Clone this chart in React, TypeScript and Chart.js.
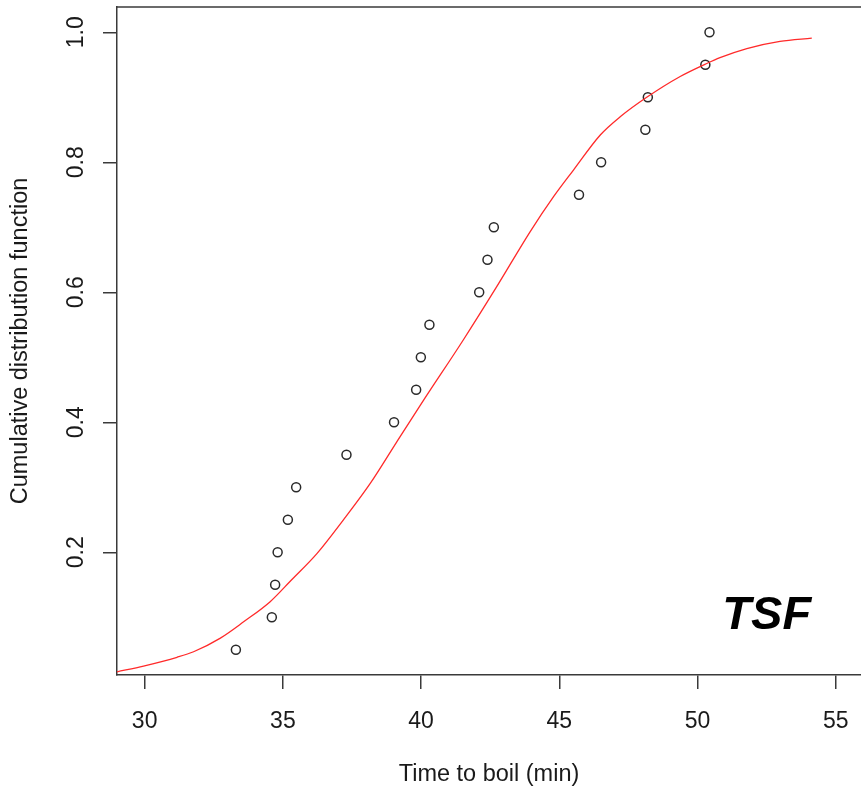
import React, { useEffect, useRef } from "react";
import { Chart, registerables } from "chart.js";

Chart.register(...registerables);

// Observed boiling times (min) and their empirical CDF positions
const obsTime = [33.3, 34.6, 34.72, 34.81, 35.18, 35.48, 37.3, 39.02, 39.82, 39.99, 40.3, 42.1, 42.4, 42.63, 45.71, 46.51, 48.11, 48.2, 50.28, 50.43];
const obsCdf = [0.05, 0.1, 0.15, 0.2, 0.25, 0.3, 0.35, 0.4, 0.45, 0.5, 0.55, 0.6, 0.65, 0.7, 0.75, 0.8, 0.85, 0.9, 0.95, 1.0];

// Fitted CDF curve
const fitTime = [29.0, 29.96, 31.17, 31.77, 32.74, 33.58, 34.54, 35.3, 36.23, 37.19, 38.16, 39.12, 40.09, 41.53, 42.74, 43.94, 44.79, 45.51, 46.48, 47.2, 48.16, 49.37, 50.28, 50.81, 51.78, 52.98, 54.13];
const fitCdf = [0.016, 0.025, 0.0385, 0.047, 0.068, 0.093, 0.124, 0.157, 0.198, 0.25, 0.306, 0.37, 0.434, 0.527, 0.609, 0.693, 0.747, 0.788, 0.842, 0.87, 0.9, 0.932, 0.951, 0.961, 0.975, 0.986, 0.991];

const xTicks = [30, 35, 40, 45, 50, 55];
const xTickLabels = ["30", "35", "40", "45", "50", "55"];
const yTicks = [0.2, 0.4, 0.6, 0.8, 1.0];
const yTickLabels = ["0.2", "0.4", "0.6", "0.8", "1.0"];
const xRange = [29.0, 55.91];
const yRange = [0.0112, 1.0389];

const xTitle = "Time to boil (min)";
const yTitle = "Cumulative distribution function";
const tagText = "TSF";
const tagX = 52.5;
const tagY = 0.082;

const AXIS = "#3a3a3a";
const TEXT = "#1a1a1a";
const FONT = '"Liberation Sans", Arial, sans-serif';

const rLabels = {
  id: "rLabels",
  afterDraw(chart: any) {
    const ctx = chart.ctx as CanvasRenderingContext2D;
    const { left, right, top, bottom } = chart.chartArea;
    const xs = chart.scales.x;
    const ys = chart.scales.y;
    ctx.save();
    // top border of the box
    ctx.strokeStyle = AXIS;
    ctx.lineWidth = 1.5;
    ctx.beginPath();
    ctx.moveTo(left - 0.75, top);
    ctx.lineTo(right + 2, top);
    ctx.stroke();

    ctx.fillStyle = TEXT;
    ctx.font = `23px ${FONT}`;
    ctx.textAlign = "center";
    ctx.textBaseline = "alphabetic";
    xTicks.forEach((v, i) => {
      ctx.fillText(xTickLabels[i], xs.getPixelForValue(v), 728);
    });
    yTicks.forEach((v, i) => {
      ctx.save();
      ctx.translate(83, ys.getPixelForValue(v));
      ctx.rotate(-Math.PI / 2);
      ctx.fillText(yTickLabels[i], 0, 0);
      ctx.restore();
    });
    ctx.font = `23.5px ${FONT}`;
    ctx.fillText(xTitle, (left + right) / 2, 781);
    ctx.save();
    ctx.translate(27, (top + bottom) / 2);
    ctx.rotate(-Math.PI / 2);
    ctx.fillText(yTitle, 0, 0);
    ctx.restore();

    ctx.font = `italic bold 47px ${FONT}`;
    ctx.fillStyle = "#000";
    ctx.fillText(tagText, xs.getPixelForValue(tagX), ys.getPixelForValue(tagY));
    ctx.restore();
  },
};

export default function App() {
  const ref = useRef<HTMLCanvasElement | null>(null);
  useEffect(() => {
    if (!ref.current) return;
    const chart = new Chart(ref.current, {
      type: "scatter",
      data: {
        datasets: [
          {
            type: "line",
            data: fitTime.map((t, i) => ({ x: t, y: fitCdf[i] })),
            borderColor: "#ff2a2a",
            borderWidth: 1.3,
            pointRadius: 0,
            fill: false,
            cubicInterpolationMode: "monotone",
          } as any,
          {
            type: "scatter",
            data: obsTime.map((t, i) => ({ x: t, y: obsCdf[i] })),
            pointStyle: "circle",
            pointRadius: 4.5,
            borderWidth: 1.5,
            borderColor: "#2a2a2a",
            backgroundColor: "rgba(0,0,0,0)",
          },
        ],
      },
      options: {
        animation: false,
        responsive: false,
        maintainAspectRatio: false,
        layout: { autoPadding: false, padding: { top: 7, right: 0, left: 0, bottom: 0 } },
        plugins: { legend: { display: false }, tooltip: { enabled: false } },
        scales: {
          x: {
            type: "linear",
            min: xRange[0],
            max: xRange[1],
            afterBuildTicks: (s: any) => {
              s.ticks = xTicks.map((v) => ({ value: v }));
            },
            afterFit: (s: any) => {
              s.height = 115;
              s.paddingLeft = 0;
              s.paddingRight = 0;
            },
            ticks: { display: false },
            grid: { drawOnChartArea: false, drawTicks: true, tickLength: 14, color: AXIS, lineWidth: 1.5 },
            border: { display: true, color: AXIS, width: 1.5 },
          },
          y: {
            type: "linear",
            min: yRange[0],
            max: yRange[1],
            afterBuildTicks: (s: any) => {
              s.ticks = yTicks.map((v) => ({ value: v }));
            },
            afterFit: (s: any) => {
              s.width = 117;
              s.paddingTop = 0;
              s.paddingBottom = 0;
            },
            ticks: { display: false },
            grid: { drawOnChartArea: false, drawTicks: true, tickLength: 14, color: AXIS, lineWidth: 1.5 },
            border: { display: true, color: AXIS, width: 1.5 },
          },
        },
      } as any,
      plugins: [rLabels],
    });
    return () => chart.destroy();
  }, []);
  return (
    <div style={{ position: "absolute", left: 0, top: 0, width: 861, height: 790, background: "#fff" }}>
      <canvas ref={ref} width={861} height={790} style={{ display: "block" }} />
    </div>
  );
}
